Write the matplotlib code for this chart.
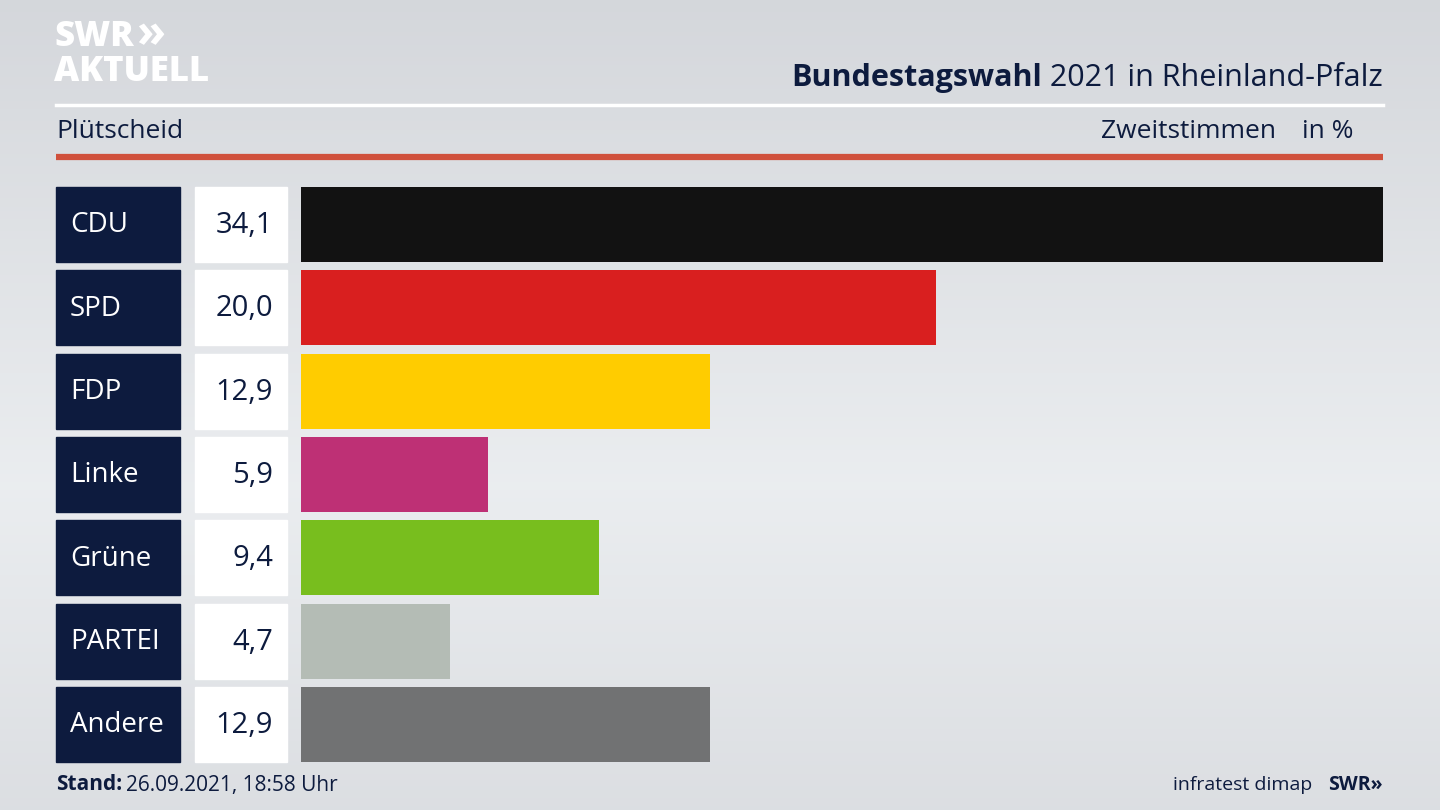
import numpy as np
import matplotlib.pyplot as plt

parties = ["CDU", "SPD", "FDP", "Linke", "Grüne", "PARTEI", "Andere"]
values = [34.1, 20.0, 12.9, 5.9, 9.4, 4.7, 12.9]
colors = ["#121212", "#d91f1f", "#ffcc00", "#be3075", "#78be1e", "#b4bcb5", "#717273"]

W, H = 1440, 810
navy = "#0d1b3e"
font = "Open Sans"

fig = plt.figure(figsize=(W / 100, H / 100), dpi=100)

# background gradient + overlay in pixel coords
bg = fig.add_axes([0, 0, 1, 1])
bg.set_xlim(0, W)
bg.set_ylim(H, 0)
bg.axis("off")
yy = np.linspace(0, 1, 200)[:, None]
grad = 1 - np.abs(yy - 0.6) * 1.2
bg.imshow(np.dstack([0.80 + 0.12 * grad, 0.81 + 0.12 * grad, 0.83 + 0.11 * grad]),
          extent=[0, W, H, 0], aspect="auto", zorder=0)

# header logo
bg.text(54, 37, "SWR", fontsize=25, fontweight="heavy", color="white", family=font, va="center")
bg.text(136, 35, "»", fontsize=34, fontweight="bold", color="white", family=font, va="center")
bg.text(54, 72, "AKTUELL", fontsize=25, fontweight="heavy", color="white", family=font, va="center")

t2 = bg.text(1383, 78, " 2021 in Rheinland-Pfalz", fontsize=22, color=navy, family=font, ha="right", va="center")
fig.canvas.draw()
ext = t2.get_window_extent()
bg.text(ext.x0, 78, "Bundestagswahl", fontsize=22, fontweight="bold",
        color=navy, family=font, ha="right", va="center")
bg.plot([56, 1383], [105, 105], color="white", lw=2.5)
bg.text(56, 132, "Plütscheid", fontsize=19, color=navy, family=font, va="center")
bg.text(1276, 132, "Zweitstimmen", fontsize=19, color=navy, family=font, va="center", ha="right")
bg.text(1354, 132, "in %", fontsize=19, color=navy, family=font, va="center", ha="right")
bg.plot([56, 1383], [157, 157], color="#d0503c", lw=4.5, solid_capstyle="butt")

# bars
ax = fig.add_axes([301 / W, 1 - 762 / H, (1383 - 301) / W, 575 / H])
ax.set_xlim(0, max(values))
ax.set_ylim(len(parties) - 0.55, -0.45)
ax.axis("off")
ax.barh(range(len(parties)), values, height=0.9, color=colors)

row_h = 575 / 6.9
for i, (p, v) in enumerate(zip(parties, values)):
    yc = 187 + 75 / 2 + i * row_h
    bg.add_patch(plt.Rectangle((56, yc - 37.5), 124, 75, color=navy, zorder=2))
    bg.add_patch(plt.Rectangle((195, yc - 37.5), 92, 75, color="white", zorder=2))
    bg.text(70, yc + 1, p, fontsize=20, color="white", family=font, va="center", zorder=3)
    bg.text(273, yc + 1, f"{v:.1f}".replace(".", ","), fontsize=21, color=navy, family=font,
            va="center", ha="right", zorder=3)

# footer
bg.text(56, 785, "Stand:", fontsize=15, fontweight="bold", color=navy, family=font, va="center")
bg.text(126, 785, "26.09.2021, 18:58 Uhr", fontsize=15, color=navy, family=font, va="center")
bg.text(1312, 785, "infratest dimap", fontsize=14, color=navy, family=font, va="center", ha="right")
bg.text(1383, 785, "SWR»", fontsize=14, fontweight="bold", color=navy, family=font, va="center", ha="right")

fig.savefig("out.png", dpi=100)
